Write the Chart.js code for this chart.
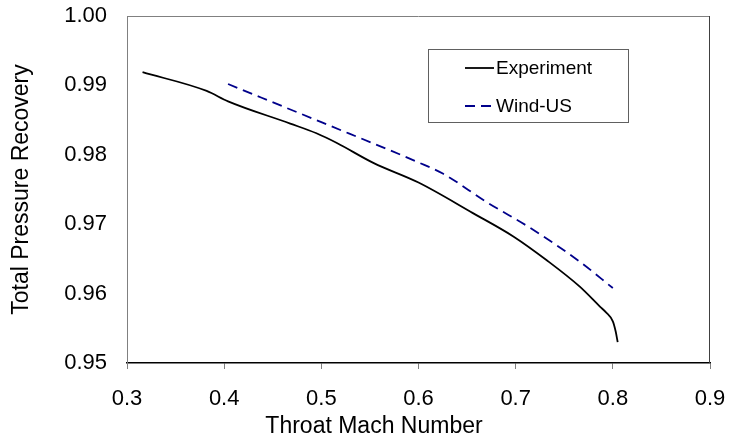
<!DOCTYPE html>
<html>
<head>
<meta charset="utf-8">
<script src="https://cdn.jsdelivr.net/npm/chart.js@4/dist/chart.umd.min.js"></script>
<style>
  html, body { margin: 0; padding: 0; background: #fff; }
  #wrap { width: 730px; height: 444px; }
</style>
</head>
<body>
<div id="wrap"><canvas id="myChart"></canvas></div>
<script>
// values
const expMach = [0.316, 0.382, 0.404, 0.468, 0.495, 0.516, 0.554, 0.600, 0.656, 0.698, 0.732, 0.766, 0.787, 0.793, 0.800, 0.803, 0.805]
const expRecovery = [0.9919, 0.9892, 0.9877, 0.9845, 0.9831, 0.9817, 0.9788, 0.9760, 0.9716, 0.9682, 0.9648, 0.9610, 0.9581, 0.9573, 0.9560, 0.9545, 0.9530]
const windMach = [0.404, 0.500, 0.600, 0.625, 0.670, 0.718, 0.766, 0.800]
const windRecovery = [0.9902, 0.9847, 0.9789, 0.9773, 0.9732, 0.9692, 0.9646, 0.9608]
const xTicks = [0.3, 0.4, 0.5, 0.6, 0.7, 0.8, 0.9]
const yTicks = [0.95, 0.96, 0.97, 0.98, 0.99, 1.00]
const seriesNames = ['Experiment', 'Wind-US']
const xTitle = 'Throat Mach Number'
const yTitle = 'Total Pressure Recovery'

function toPoints(xs, ys) {
  return xs.map((x, i) => ({ x: x, y: ys[i] }))
}

const FONT = "'Liberation Sans', Arial, sans-serif"

// top/right frame, x title and boxed legend like the original
const framePlugin = {
  id: 'frame',
  afterDraw(chart) {
    const ctx = chart.ctx
    const a = chart.chartArea
    ctx.save()
    ctx.lineWidth = 1
    ctx.strokeStyle = '#808080'
    ctx.beginPath()
    ctx.moveTo(a.left, a.top + 0.5)
    ctx.lineTo(a.right, a.top + 0.5)
    ctx.stroke()
    ctx.strokeStyle = '#404040'
    ctx.beginPath()
    ctx.moveTo(a.right - 0.5, a.top)
    ctx.lineTo(a.right - 0.5, a.bottom)
    ctx.stroke()

    // x axis title (sits a bit left of the plot centre in the original)
    ctx.fillStyle = '#000'
    ctx.font = '23px ' + FONT
    ctx.textAlign = 'center'
    ctx.textBaseline = 'middle'
    ctx.fillText(xTitle, 374, 427)

    // legend box
    const bx = 428, by = 49, bw = 200, bh = 73
    ctx.fillStyle = '#fff'
    ctx.fillRect(bx, by, bw, bh)
    ctx.strokeStyle = '#606060'
    ctx.lineWidth = 1
    ctx.strokeRect(bx + 0.5, by + 0.5, bw, bh)
    ctx.font = '19px ' + FONT
    ctx.textAlign = 'left'
    const rows = [68, 106]
    chart.data.datasets.forEach((ds, i) => {
      ctx.strokeStyle = ds.borderColor
      ctx.lineWidth = ds.borderWidth
      ctx.setLineDash(ds.borderDash || [])
      ctx.beginPath()
      ctx.moveTo(465, rows[i])
      ctx.lineTo(494, rows[i])
      ctx.stroke()
      ctx.setLineDash([])
      ctx.fillStyle = '#000'
      ctx.fillText(ds.label, 496, rows[i] + 1)
    })
    ctx.restore()
  }
}

const ctx = document.getElementById('myChart')
new Chart(ctx, {
  type: 'line',
  data: {
    datasets: [{
      label: seriesNames[0],
      data: toPoints(expMach, expRecovery),
      borderColor: '#000000',
      borderWidth: 1.8,
      pointRadius: 0,
      cubicInterpolationMode: 'monotone',
      fill: false
    }, {
      label: seriesNames[1],
      data: toPoints(windMach, windRecovery),
      borderColor: '#00008B',
      borderWidth: 1.8,
      borderDash: [10, 6],
      pointRadius: 0,
      cubicInterpolationMode: 'monotone',
      fill: false
    }]
  },
  options: {
    responsive: true,
    maintainAspectRatio: false,
    animation: false,
    layout: { padding: { top: 16, right: 20, left: 0, bottom: 3 } },
    plugins: {
      legend: { display: false },
      tooltip: { enabled: false }
    },
    scales: {
      x: {
        type: 'linear',
        min: 0.3,
        max: 0.9,
        afterBuildTicks: (axis) => { axis.ticks = xTicks.map(v => ({ value: v })) },
        afterFit: (axis) => {
          axis.height = 78
          axis.paddingLeft = 0
          axis.paddingRight = 0
        },
        ticks: {
          callback: (v) => v.toFixed(1),
          color: '#000',
          font: { family: FONT, size: 22 },
          padding: 17,
          maxRotation: 0
        },
        grid: { drawOnChartArea: false, drawTicks: true, tickLength: 6, color: '#808080' },
        border: { display: true, color: '#000', width: 1.5 }
      },
      y: {
        type: 'linear',
        min: 0.95,
        max: 1.0,
        afterBuildTicks: (axis) => { axis.ticks = yTicks.map(v => ({ value: v })) },
        afterFit: (axis) => {
          axis.width = 127
          axis.paddingTop = 0
          axis.paddingBottom = 0
        },
        ticks: {
          callback: (v) => v.toFixed(2),
          color: '#000',
          font: { family: FONT, size: 22 },
          padding: 20
        },
        grid: { display: false, drawTicks: false },
        border: { display: true, color: '#808080', width: 1 },
        title: {
          display: true,
          text: yTitle,
          color: '#000',
          font: { family: FONT, size: 23 },
          padding: { top: 8, bottom: 0 }
        }
      }
    }
  },
  plugins: [framePlugin]
})
</script>
</body>
</html>
